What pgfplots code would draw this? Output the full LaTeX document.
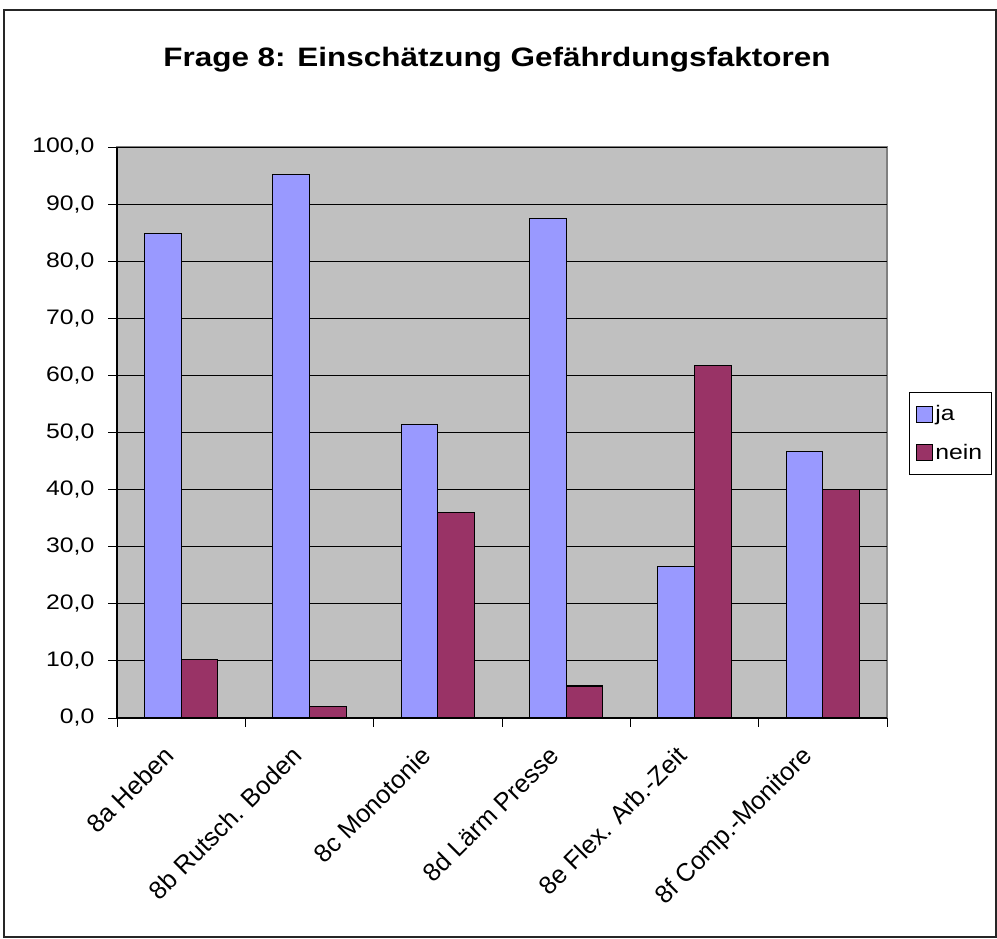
\documentclass[border=0pt]{standalone}
\usepackage{pgfplots}
\pgfplotsset{compat=1.18}
\usepackage{fontspec}
\setmainfont[FakeStretch=1.18]{Liberation Sans}
\newfontfamily\plainfont{Liberation Sans}
\newcommand{\xl}[1]{\rotatebox{45}{\plainfont\fontsize{19}{22}\selectfont #1}}
\definecolor{jacol}{HTML}{9999FF}
\definecolor{neincol}{HTML}{993366}
\definecolor{plotbg}{HTML}{C0C0C0}
\begin{document}
\begin{tikzpicture}[x=0.75pt,y=0.75pt]
\path (0,0) rectangle (997,939);
\draw[line width=1pt, black!85] (4,2) rectangle (996,929);
\node[font=\bfseries\fontsize{20}{24}\selectfont] at (497,879) {Frage 8: Einschätzung Gefährdungsfaktoren};
\begin{axis}[
  at={(87.75pt,165.75pt)}, anchor=south west,
  scale only axis, width=577.5pt, height=428.25pt,
  ybar=0pt, bar width=27.5pt,
  xmin=-0.5, xmax=5.5, ymin=0, ymax=100,
  axis x line=bottom, axis y line=left,
  axis line style={-, black, line width=0.8pt},
  axis background/.style={fill=plotbg, draw=gray, line width=0.8pt},
  xtick={0,1,2,3,4,5},
  xticklabels={\xl{8a Heben}, \xl{8b Rutsch. Boden}, \xl{8c Monotonie}, \xl{8d Lärm Presse}, \xl{8e Flex. Arb.-Zeit}, \xl{8f Comp.-Monitore}},
  major x tick style={draw=none},
  minor xtick={-0.5,0.5,1.5,2.5,3.5,4.5,5.5},
  minor x tick style={black, line width=0.6pt},
  tick align=outside,
  major tick length=6.5pt, minor tick length=6.5pt,
  ytick={0,10,...,100},
  y tick style={black, line width=0.6pt},
  ymajorgrids,
  grid style={black, line width=0.6pt},
  tick label style={font=\fontsize{15.75}{18}\selectfont, black},
  yticklabel style={xshift=-7pt, /pgf/number format/.cd, fixed, fixed zerofill, precision=1, use comma, assume math mode=true},
  xticklabel style={xshift=-4pt, yshift=-13pt, anchor=north east, inner sep=0pt},
  legend style={at={(1.0286,0.571)}, anchor=north west, draw=black, fill=white,
    font=\fontsize{15.75}{18}\selectfont, row sep=12pt, inner xsep=5pt, inner ysep=8pt},
  legend cell align=left,
  legend image code/.code={\draw[#1, draw=black, line width=0.6pt] (0pt,-6pt) rectangle (12pt,6pt);},
]
\addplot[fill=jacol, draw=black, line width=0.8pt] coordinates {(0,84.8) (1,95.2) (2,51.4) (3,87.5) (4,26.6) (5,46.7)};
\addplot[fill=neincol, draw=black, line width=0.8pt] coordinates {(0,10.3) (1,2.0) (2,36.0) (3,5.6) (4,61.8) (5,40.0)};
\legend{ja, nein}
\end{axis}
\end{tikzpicture}
\end{document}
